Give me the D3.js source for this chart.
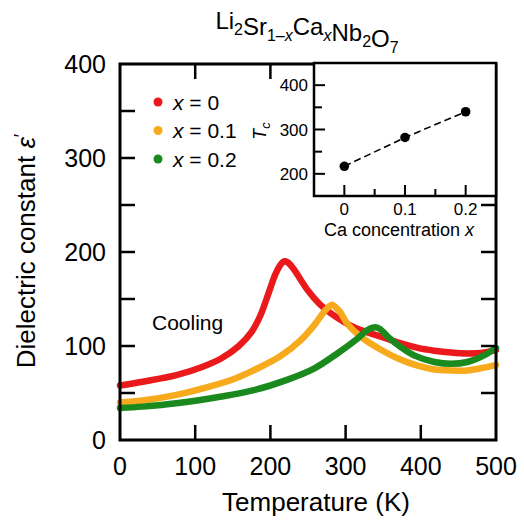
<!DOCTYPE html>
<html>
<head>
<meta charset="utf-8">
<script src="https://cdn.jsdelivr.net/npm/d3@7"></script>
<style>
  body { margin: 0; background: #fff; }
  svg { font-family: "Liberation Sans", Arial, sans-serif; }
</style>
</head>
<body>
<script>
// dielectric constant vs temperature, one series per Ca content
var seriesNames = ["0", "0.1", "0.2"];
var seriesColors = ["#ea1a1c", "#f7aa1c", "#1a8a1e"];

var tempX0 = [0, 30, 75, 110, 135, 158, 175, 187, 197, 207, 214, 218, 223, 230, 249, 265, 280, 311, 347, 369, 396, 418, 440, 462, 484, 500];
var epsX0  = [58, 62, 69, 78, 87, 100, 115, 133, 155, 177, 187, 190, 189, 183, 160, 145, 135, 120, 110, 104, 98, 95, 93, 92, 93, 96];

var tempX1 = [0, 30, 75, 120, 155, 180, 213, 240, 258, 271, 278, 282, 287, 293, 302, 320, 347, 369, 396, 418, 440, 462, 484, 500];
var epsX1  = [40, 42, 48, 57, 66, 75, 89, 106, 122, 136, 142, 144, 141, 136, 124, 110, 96, 87, 79, 75, 74, 74, 77, 80];

var tempX2 = [0, 30, 75, 133, 178, 222, 258, 289, 316, 329, 340, 346, 356, 373, 391, 418, 440, 462, 484, 500];
var epsX2  = [34, 35.5, 39, 46, 53, 64, 76, 92, 108, 117, 120, 118, 110, 99, 90, 83, 81, 83, 90, 98];

// inset: Tc vs Ca concentration
var caConc = [0, 0.1, 0.2];
var tcVals = [217, 282, 340];

var xTicks = [0, 100, 200, 300, 400, 500];
var yTicks = [0, 50, 100, 150, 200, 250, 300, 350, 400];
var yLabels = [0, 100, 200, 300, 400];

var width = 524, height = 522;

var svg = d3.select("body").append("svg")
    .attr("width", width)
    .attr("height", height);

var x = d3.scaleLinear().domain([0, 500]).range([120, 496]);
var y = d3.scaleLinear().domain([0, 400]).range([440, 64]);

var series = [
    {name: seriesNames[0], color: seriesColors[0], t: tempX0, e: epsX0},
    {name: seriesNames[1], color: seriesColors[1], t: tempX1, e: epsX1},
    {name: seriesNames[2], color: seriesColors[2], t: tempX2, e: epsX2}
];

var line = d3.line()
    .x(function(d){ return x(d[0]); })
    .y(function(d){ return y(d[1]); })
    .curve(d3.curveCatmullRom.alpha(0.5));

//curves
svg.selectAll(".curve")
    .data(series)
    .enter()
    .append("path")
    .attr("class", "curve")
    .attr("fill", "none")
    .attr("stroke", function(d){ return d.color; })
    .attr("stroke-width", 6.5)
    .attr("stroke-linejoin", "round")
    .attr("stroke-linecap", "round")
    .attr("d", function(d){ return line(d3.zip(d.t, d.e)); });

//inner ticks on all four sides
var tickLen = 15;
var axisG = svg.append("g").attr("stroke", "#000").attr("stroke-width", 2.5);
xTicks.slice(1, -1).forEach(function(t){
    axisG.append("line").attr("x1", x(t)).attr("x2", x(t)).attr("y1", y(0)).attr("y2", y(0) - tickLen);
    axisG.append("line").attr("x1", x(t)).attr("x2", x(t)).attr("y1", y(400)).attr("y2", y(400) + tickLen);
});
yTicks.slice(1, -1).forEach(function(v){
    axisG.append("line").attr("x1", x(0)).attr("x2", x(0) + tickLen).attr("y1", y(v)).attr("y2", y(v));
    axisG.append("line").attr("x1", x(500)).attr("x2", x(500) - tickLen).attr("y1", y(v)).attr("y2", y(v));
});

//frame
svg.append("rect")
    .attr("x", x(0)).attr("y", y(400))
    .attr("width", x(500) - x(0)).attr("height", y(0) - y(400))
    .attr("fill", "none").attr("stroke", "#000").attr("stroke-width", 3);

//tick labels
svg.selectAll(".xlab")
    .data(xTicks)
    .enter().append("text")
    .attr("x", function(d){ return x(d); })
    .attr("y", 475)
    .attr("text-anchor", "middle")
    .attr("font-size", 25)
    .text(function(d){ return d; });

svg.selectAll(".ylab")
    .data(yLabels)
    .enter().append("text")
    .attr("x", 106)
    .attr("y", function(d){ return y(d) + 9; })
    .attr("text-anchor", "end")
    .attr("font-size", 25)
    .text(function(d){ return d; });

//axis titles
svg.append("text")
    .attr("x", 316).attr("y", 511)
    .attr("text-anchor", "middle")
    .attr("font-size", 26)
    .text("Temperature (K)");

var yt = svg.append("text")
    .attr("transform", "translate(35,251) rotate(-90)")
    .attr("text-anchor", "middle")
    .attr("font-size", 26);
yt.append("tspan").text("Dielectric constant ");
yt.append("tspan").attr("font-style", "italic").text("ε");
yt.append("tspan").attr("font-size", 18).attr("dy", -8).text("′");

//title with subscripts
var title = svg.append("text")
    .attr("x", 307).attr("y", 29)
    .attr("text-anchor", "middle")
    .attr("font-size", 24);
function sub(txt, italic){
    title.append("tspan").attr("font-size", 16).attr("dy", 6)
        .attr("font-style", italic ? "italic" : null).text(txt);
    title.append("tspan").attr("dy", -6).text("");
}
title.append("tspan").text("Li");
sub("2");
title.append("tspan").text("Sr");
title.append("tspan").attr("font-size", 16).attr("dy", 6).text("1–");
title.append("tspan").attr("font-size", 16).attr("font-style", "italic").text("x");
title.append("tspan").attr("dy", -6).text("Ca");
sub("x", true);
title.append("tspan").text("Nb");
sub("2");
title.append("tspan").text("O");
sub("7");

//legend
var legend = svg.selectAll(".legend")
    .data(series)
    .enter().append("g")
    .attr("transform", function(d, i){ return "translate(158," + (102 + i * 28.5) + ")"; });
legend.append("circle").attr("r", 4.5).attr("fill", function(d){ return d.color; });
var lt = legend.append("text").attr("x", 15).attr("y", 7.5).attr("font-size", 21);
lt.append("tspan").attr("font-style", "italic").text("x");
lt.append("tspan").text(function(d){ return " = " + d.name; });

svg.append("text")
    .attr("x", 152).attr("y", 330)
    .attr("font-size", 21)
    .text("Cooling");

//inset
var ix = d3.scaleLinear().domain([-0.05, 0.25]).range([314, 496]);
var iy = d3.scaleLinear().domain([150, 450]).range([196, 63]);

svg.append("rect")
    .attr("x", ix(-0.05)).attr("y", iy(450))
    .attr("width", ix(0.25) - ix(-0.05)).attr("height", iy(150) - iy(450))
    .attr("fill", "#fff").attr("stroke", "#000").attr("stroke-width", 2.5);

var inG = svg.append("g").attr("stroke", "#000").attr("stroke-width", 2);
[0, 0.05, 0.1, 0.15, 0.2].forEach(function(c, i){
    var len = i % 2 === 0 ? 11 : 7;
    inG.append("line").attr("x1", ix(c)).attr("x2", ix(c)).attr("y1", iy(150)).attr("y2", iy(150) - len);
});
[200, 250, 300, 350, 400].forEach(function(v, i){
    var len = i % 2 === 0 ? 11 : 8;
    inG.append("line").attr("x1", ix(-0.05)).attr("x2", ix(-0.05) + len).attr("y1", iy(v)).attr("y2", iy(v));
});

svg.append("path")
    .datum(d3.zip(caConc, tcVals))
    .attr("fill", "none")
    .attr("stroke", "#000")
    .attr("stroke-width", 1.6)
    .attr("stroke-dasharray", "7,4")
    .attr("d", d3.line().x(function(d){ return ix(d[0]); }).y(function(d){ return iy(d[1]); }));

svg.selectAll(".tc")
    .data(d3.zip(caConc, tcVals))
    .enter().append("circle")
    .attr("cx", function(d){ return ix(d[0]); })
    .attr("cy", function(d){ return iy(d[1]); })
    .attr("r", 4.8)
    .attr("fill", "#000");

svg.selectAll(".ixlab")
    .data(caConc)
    .enter().append("text")
    .attr("x", function(d){ return ix(d); })
    .attr("y", 215)
    .attr("text-anchor", "middle")
    .attr("font-size", 17)
    .text(function(d){ return d; });

svg.selectAll(".iylab")
    .data([200, 300, 400])
    .enter().append("text")
    .attr("x", 308)
    .attr("y", function(d){ return iy(d) + 6; })
    .attr("text-anchor", "end")
    .attr("font-size", 17)
    .text(function(d){ return d; });

var cx = svg.append("text")
    .attr("x", 399).attr("y", 236)
    .attr("text-anchor", "middle")
    .attr("font-size", 18);
cx.append("tspan").text("Ca concentration ");
cx.append("tspan").attr("font-style", "italic").text("x");

var tc = svg.append("text")
    .attr("transform", "translate(266,131) rotate(-90)")
    .attr("text-anchor", "middle")
    .attr("font-size", 18);
tc.append("tspan").attr("font-style", "italic").text("T");
tc.append("tspan").attr("font-style", "italic").attr("font-size", 13).attr("dy", 4).text("c");
</script>
</body>
</html>
